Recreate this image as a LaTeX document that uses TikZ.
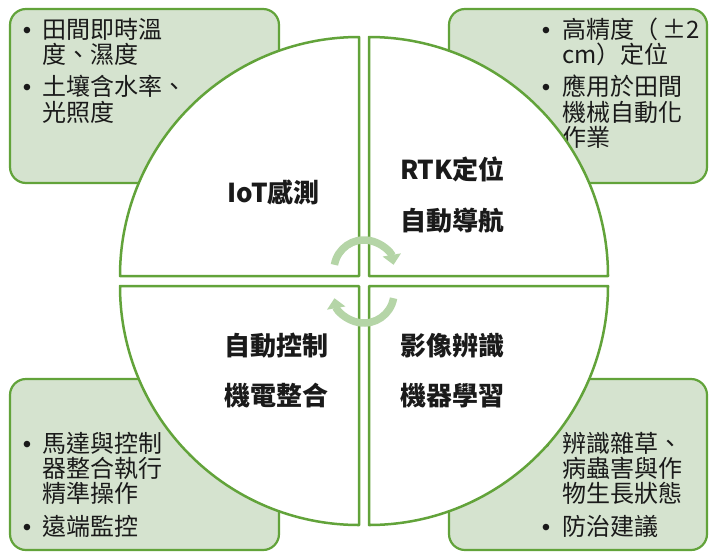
\documentclass[tikz,border=0pt]{standalone}
\usepackage{fontspec}
\newfontfamily\cjk{Noto Sans CJK TC}
\newfontfamily\bulfont{Liberation Sans}
\usetikzlibrary{arrows.meta,calc}
\definecolor{gborder}{RGB}{98,163,58}
\definecolor{gfill}{RGB}{213,227,207}
\definecolor{garrow}{RGB}{181,213,167}
\definecolor{ink}{RGB}{26,26,26}
\tikzset{
  box/.style={draw=gborder, fill=gfill, line width=2.2pt, rounded corners=16pt},
  quad/.style={draw=gborder, fill=white, line width=2.5pt, line join=round},
  item/.style={anchor=base west, inner sep=0pt, text=ink, font=\cjk\fontsize{24}{26}\selectfont},
  bul/.style={anchor=base, inner sep=0pt, text=ink, font=\bulfont\fontsize{24}{26}\selectfont},
  lab/.style={anchor=base, inner sep=0pt, text=ink, font=\cjk\bfseries\fontsize{26}{28}\selectfont},
  cyc/.style={draw=garrow, line width=7.5pt, -{Triangle[width=18pt,length=10pt]}}
}
\begin{document}
\begin{tikzpicture}[x=1pt,y=-1pt]
\useasboundingbox (0,0) rectangle (709,552);
% corner boxes
\draw[box] (10,9) rectangle (279,183);
\draw[box] (449,9) rectangle (707,183);
\draw[box] (10,379) rectangle (279,550);
\draw[box] (449,379) rectangle (707,550);
% top-left text
\node[bul]  (tlb1) at (27,38.5) {•};
\node[item] (tl1) at (42,38.5) {田間即時溫};
\node[item] (tl2) at (42,63.5) {度、濕度};
\node[bul]  (tlb2) at (27,95.5) {•};
\node[item] (tl3) at (42,95.5) {土壤含水率、};
\node[item] (tl4) at (42,121.5) {光照度};
% top-right text
\node[bul]  (trb1) at (546,38.5) {•};
\node[item] (tr1) at (562,38.5) {高精度（\,±2};
\node[item] (tr2) at (562,63.5) {cm）定位};
\node[bul]  (trb2) at (546,95.5) {•};
\node[item] (tr3) at (562,95.5) {應用於田間};
\node[item] (tr4) at (562,121.5) {機械自動化};
\node[item] (tr5) at (562,146.5) {作業};
% bottom-left text
\node[bul]  (blb1) at (27,452.5) {•};
\node[item] (bl1) at (42,452.5) {馬達與控制};
\node[item] (bl2) at (42,477.5) {器整合執行};
\node[item] (bl3) at (42,502.5) {精準操作};
\node[bul]  (blb2) at (27,535.5) {•};
\node[item] (bl4) at (42,535.5) {遠端監控};
% bottom-right text
\node[bul]  (brb1) at (546,452.5) {•};
\node[item] (br1) at (562,452.5) {辨識雜草、};
\node[item] (br2) at (562,477.5) {病蟲害與作};
\node[item] (br3) at (562,502.5) {物生長狀態};
\node[bul]  (brb2) at (546,535.5) {•};
\node[item] (br4) at (562,535.5) {防治建議};
% quadrants
\draw[quad] (359,276) -- ++(180:239) arc[start angle=180,end angle=270,radius=239] -- cycle;
\draw[quad] (369,276) -- ++(270:239) arc[start angle=270,end angle=360,radius=239] -- cycle;
\draw[quad] (369,286) -- ++(0:239) arc[start angle=0,end angle=90,radius=239] -- cycle;
\draw[quad] (359,286) -- ++(90:239) arc[start angle=90,end angle=180,radius=239] -- cycle;
% quadrant labels
\node[lab] (q1) at (273.5,202) {IoT感測};
\node[lab] (q2a) at (452.5,179.5) {RTK定位};
\node[lab] (q2b) at (452.5,230) {自動導航};
\node[lab] (q3a) at (276,355) {自動控制};
\node[lab] (q3b) at (276,405) {機電整合};
\node[lab] (q4a) at (452.5,355) {影像辨識};
\node[lab] (q4b) at (452.5,405) {機器學習};
% center cycle arrows
\coordinate (ca) at (364,270);
\coordinate (cb) at (364,293);
\draw[cyc] ($(ca)+(190:30)$) arc[start angle=190,end angle=350,radius=30];
\draw[cyc] ($(cb)+(10:30)$) arc[start angle=10,end angle=170,radius=30];
\end{tikzpicture}
\end{document}
